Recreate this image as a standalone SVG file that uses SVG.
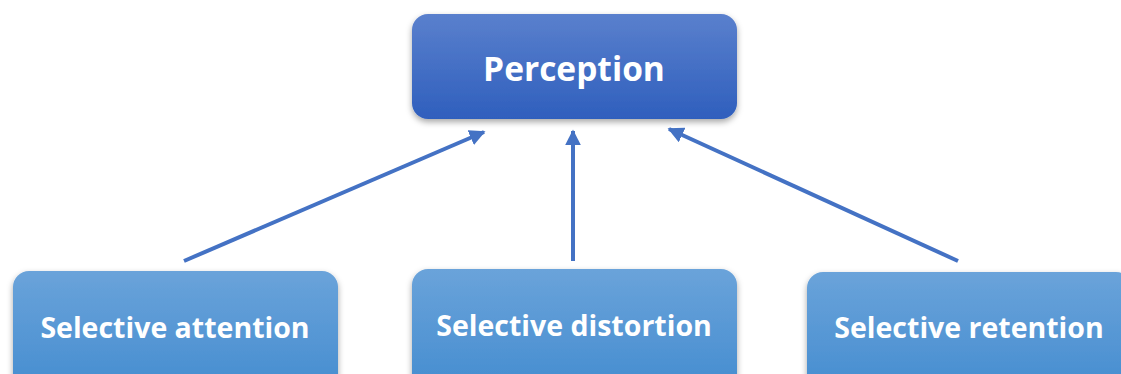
<svg xmlns="http://www.w3.org/2000/svg" width="1121" height="374" viewBox="0 0 1121 374">
  <defs>
    <linearGradient id="gTop" x1="0" y1="0" x2="0" y2="1">
      <stop offset="0" stop-color="#5a80cd"/>
      <stop offset="1" stop-color="#2f5fbd"/>
    </linearGradient>
    <linearGradient id="gBottom" x1="0" y1="0" x2="0" y2="1">
      <stop offset="0" stop-color="#6aa3da"/>
      <stop offset="1" stop-color="#428bcf"/>
    </linearGradient>
    <filter id="shadow" x="-10%" y="-20%" width="120%" height="150%">
      <feDropShadow dx="0" dy="3" stdDeviation="3" flood-color="#000" flood-opacity="0.35"/>
    </filter>
    <marker id="arrow" viewBox="0 0 10 10" refX="9" refY="5" markerWidth="4" markerHeight="4" orient="auto" markerUnits="strokeWidth">
      <path d="M0,0 L10,5 L0,10 z" fill="#4472c4"/>
    </marker>
    <style>
      .lbl { font-family: "Open Sans", "Noto Sans", sans-serif; font-weight: bold; fill: #ffffff; text-anchor: middle; }
      .top { font-size: 33.5px; }
      .sub { font-size: 28.5px; }
      .conn { stroke: #4472c4; stroke-width: 4; fill: none; marker-end: url(#arrow); }
    </style>
  </defs>

  <rect width="1121" height="374" fill="#ffffff"/>

  <g id="connectors">
    <line class="conn" x1="184" y1="261" x2="484" y2="132"/>
    <line class="conn" x1="573" y1="261" x2="573" y2="131"/>
    <line class="conn" x1="958" y1="261" x2="669" y2="129"/>
  </g>

  <g id="node-perception">
    <rect x="412" y="14" width="325" height="105" rx="16" fill="url(#gTop)" filter="url(#shadow)"/>
    <text class="lbl top" x="574" y="81">Perception</text>
  </g>

  <g id="node-attention">
    <rect x="13" y="271" width="325" height="130" rx="16" fill="url(#gBottom)" filter="url(#shadow)"/>
    <text class="lbl sub" x="175" y="338">Selective attention</text>
  </g>

  <g id="node-distortion">
    <rect x="412" y="269" width="325" height="130" rx="16" fill="url(#gBottom)" filter="url(#shadow)"/>
    <text class="lbl sub" x="574" y="336">Selective distortion</text>
  </g>

  <g id="node-retention">
    <rect x="807" y="272" width="325" height="130" rx="16" fill="url(#gBottom)" filter="url(#shadow)"/>
    <text class="lbl sub" x="969" y="338">Selective retention</text>
  </g>
</svg>
